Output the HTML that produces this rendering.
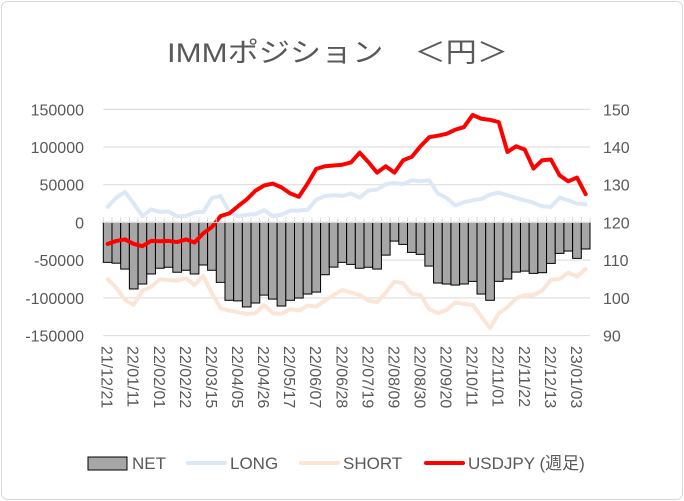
<!DOCTYPE html>
<html><head><meta charset="utf-8"><style>
body{margin:0;background:#fff;}
svg{display:block;font-family:"Liberation Sans","Noto Sans CJK JP",sans-serif;}
</style></head><body>
<svg id="chart" width="684" height="501">
<rect x="1.5" y="1.5" width="681" height="498" rx="6" fill="#fff" stroke="#d9d9d9"/>
<text x="167" y="62" font-size="27" fill="#595959" textLength="341" lengthAdjust="spacingAndGlyphs">IMMポジション　＜円＞</text>
<g id="grid"></g><g id="bars"></g><g id="lines"></g><g id="axes"></g>
<g>
<rect x="88" y="457" width="39" height="13" fill="#a6a6a6" stroke="#000"/>
<text x="132" y="469" font-size="17" fill="#595959">NET</text>
<line x1="188" y1="463" x2="225" y2="463" stroke="#dce8f5" stroke-width="4" stroke-linecap="round"/>
<text x="230" y="469" font-size="17" fill="#595959">LONG</text>
<line x1="301" y1="463" x2="338" y2="463" stroke="#fbe5d6" stroke-width="4" stroke-linecap="round"/>
<text x="343" y="469" font-size="17" fill="#595959">SHORT</text>
<line x1="426" y1="463" x2="463" y2="463" stroke="#ff0000" stroke-width="4" stroke-linecap="round"/>
<text x="468" y="469" font-size="17" fill="#595959">USDJPY (週足)</text>
</g>
</svg>
<script>
const dateLabels=["21/12/21","22/01/11","22/02/01","22/02/22","22/03/15","22/04/05","22/04/26","22/05/17","22/06/07","22/06/28","22/07/19","22/08/09","22/08/30","22/09/20","22/10/11","22/11/01","22/11/22","22/12/13","23/01/03"];
const netValues=[-52900,-54000,-61800,-88200,-81600,-68300,-60700,-59400,-66000,-63400,-68300,-56400,-63400,-79400,-103200,-104000,-112000,-106800,-96300,-101600,-110800,-103200,-100200,-94900,-92300,-69300,-59200,-52900,-55600,-60700,-59400,-61800,-43300,-24700,-29100,-39700,-42300,-57800,-80300,-81600,-83000,-81600,-78100,-94900,-103200,-78100,-75000,-65800,-64500,-67500,-66600,-54300,-41000,-37900,-47600,-35200];
const longValues=[20600,33000,40500,25100,8300,17200,14000,14500,8000,8500,13300,14000,32500,35200,14000,8000,10200,11000,16300,8500,10200,15600,15800,16800,30100,35000,36000,35000,38300,33000,42300,43600,50700,52400,50700,56000,54700,56000,38300,32500,22400,26800,29400,31200,36900,39600,36000,32500,29400,26300,21400,20600,33000,29400,25100,24200];
const shortValues=[-75400,-86500,-102800,-109400,-90500,-85200,-75400,-76300,-77100,-74000,-82800,-70900,-93900,-113800,-116800,-119000,-121200,-120300,-109400,-120300,-121200,-115000,-116800,-110200,-111500,-103600,-96100,-89500,-93000,-96100,-103600,-105800,-93000,-78400,-80600,-94700,-96100,-115000,-120300,-115900,-106200,-108000,-109400,-124800,-140200,-120300,-112400,-100500,-96100,-96100,-90300,-76200,-74900,-66500,-71800,-61600];
const usdjpyValues=[114.3,115.1,115.5,114.3,113.7,115.1,115.0,115.1,114.8,115.5,114.7,117.1,118.8,121.7,122.4,124.3,126.1,128.4,129.8,130.3,129.3,127.7,126.8,130.3,134.2,134.9,135.1,135.3,135.9,138.5,136.0,133.2,134.9,133.2,136.5,137.4,140.2,142.6,143.0,143.5,144.6,145.3,148.5,147.5,147.2,146.6,138.7,140.2,139.3,134.3,136.5,136.7,132.5,130.9,131.9,127.5];
const leftTicks=[150000,100000,50000,0,-50000,-100000,-150000];
const rightTicks=[150,140,130,120,110,100,90];

const NS="http://www.w3.org/2000/svg";
const X0=103.3,X1=590,Y0=109.3,Y1=335.6;
const n=netValues.length, step=(X1-X0)/n;
const xC=i=>X0+step*(i+0.5);
const yL=v=>Y1-(v+150000)/300000*(Y1-Y0);
const yR=v=>Y1-(v-90)/60*(Y1-Y0);
function mk(tag,attrs,parent){const e=document.createElementNS(NS,tag);for(const k in attrs)e.setAttribute(k,attrs[k]);parent.appendChild(e);return e;}
const grid=document.getElementById('grid'),bars=document.getElementById('bars'),lines=document.getElementById('lines'),axes=document.getElementById('axes');
leftTicks.forEach(t=>{
 const g=mk('line',{x1:X0,x2:X1,y1:yL(t),y2:yL(t),stroke:'#d9d9d9','stroke-width':1},grid);
 
 
 const tx=mk('text',{x:84,y:yL(t)+6,'text-anchor':'end','font-size':16,fill:'#595959'},axes);
 tx.textContent=t;
 
 
});
rightTicks.forEach(t=>{
 const tx=mk('text',{x:603,y:yR(t)+6,'font-size':16,fill:'#595959'},axes);
 tx.textContent=t;
 
 
});
netValues.forEach((v,i)=>{
 const y=Math.min(yL(0),yL(v)),h=Math.abs(yL(v)-yL(0));
 const r=mk('rect',{x:X0+step*i,y:y,width:step,height:h,fill:'#a6a6a6',stroke:'#000','stroke-width':1},bars);
 
 
});
for(let i=0;i<=n;i++){
 const tk=mk('line',{x1:X0+step*i,x2:X0+step*i,y1:yL(0),y2:yL(0)-5,stroke:'#d9d9d9'},axes);
 
 
}
const za=mk('line',{x1:X0,x2:X1,y1:yL(0),y2:yL(0),stroke:'#d9d9d9'},axes);


function series(vals,fy,color,w,name){
 const p=mk('polyline',{points:vals.map((v,i)=>xC(i)+','+fy(v)).join(' '),fill:'none',stroke:color,'stroke-width':w,'stroke-linejoin':'round','stroke-linecap':'round'},lines);
 
 
}
series(longValues,yL,'#dce8f5',4,'long-line');
series(shortValues,yL,'#fbe5d6',4,'short-line');
series(usdjpyValues,yR,'#ff0000',4,'usdjpy-line');
dateLabels.forEach((d,k)=>{
 const x=xC(k*3)-6,y=346;
 const tx=mk('text',{x:x,y:y,transform:`rotate(90 ${x} ${y})`,'font-size':16,fill:'#595959'},axes);
 tx.textContent=d;
 
 
});
</script>
</body></html>
